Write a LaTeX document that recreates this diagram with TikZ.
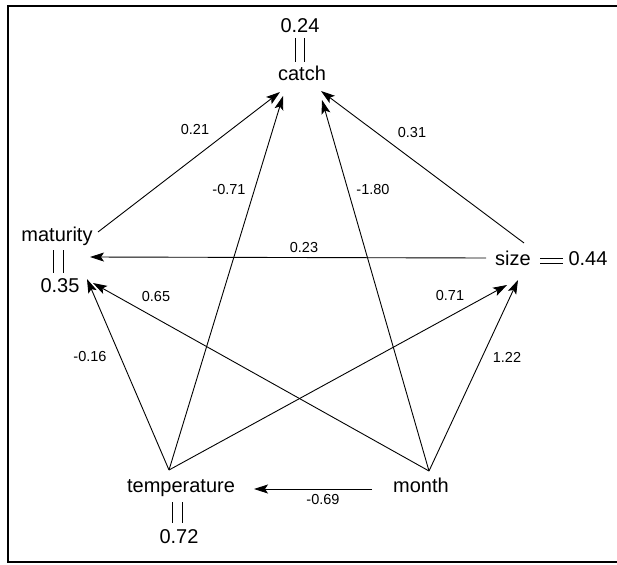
\documentclass[tikz,border=0pt]{standalone}
\usepackage{fontspec}
\setmainfont{Liberation Sans}
\usetikzlibrary{arrows.meta}
\begin{document}
\begin{tikzpicture}[x=1pt,y=-1pt,
  var/.style={inner sep=0pt,anchor=base,font=\fontsize{20}{22}\selectfont},
  lab/.style={inner sep=0pt,anchor=center,font=\fontsize{14.5}{16}\selectfont},
  conn/.style={line width=0.9pt,-{Stealth[length=14pt,width=9pt,inset=3pt]}},
  eq/.style={line width=1pt},
  frame/.style={line width=1.4pt}]
\useasboundingbox (0,0) rectangle (617,564);
% frame
\draw[frame] (617,6) -- (8,6) -- (8,562) -- (617,562);
% variables
\node[var] (catch) at (302,81) {catch};
\node[var] (rcatch) at (300,33) {0.24};
\node[var] (mat) at (57,241) {maturity};
\node[var] (rmat) at (60,292) {0.35};
\node[var] (size) at (513,265) {size};
\node[var] (rsize) at (588,265) {0.44};
\node[var] (temp) at (181,492) {temperature};
\node[var] (rtemp) at (179,543) {0.72};
\node[var] (month) at (421,492) {month};
% residual markers
\draw[eq] (295,38) -- (295,62) (304,38) -- (304,62);
\draw[eq] (53,250) -- (53,273) (63,250) -- (63,273);
\draw[eq] (540,258) -- (563,258) (540,263) -- (563,263);
\draw[eq] (172,502) -- (172,523) (182,502) -- (182,523);
% connector end points
\coordinate (T0) at (169,470);
\coordinate (M0) at (429,471);
\coordinate (matout) at (98,232);
\coordinate (sizeout1) at (524,243);
\coordinate (sizeout2) at (486,258);
\coordinate (monthout) at (372,489);
\coordinate (c1) at (280,92);
\coordinate (c2) at (283,96);
\coordinate (c3) at (322,100);
\coordinate (c4) at (321,91);
\coordinate (m1) at (90,257);
\coordinate (m2) at (87,279);
\coordinate (m3) at (93,283);
\coordinate (s1) at (507,285);
\coordinate (s2) at (518,280);
\coordinate (t1) at (254,489);
% connectors
\draw[conn] (matout) -- (c1);
\draw[conn] (T0) -- (c2);
\draw[conn] (M0) -- (c3);
\draw[conn] (sizeout1) -- (c4);
\draw[conn] (sizeout2) -- (m1);
\draw[conn] (T0) -- (m2);
\draw[conn] (M0) -- (m3);
\draw[conn] (T0) -- (s1);
\draw[conn] (M0) -- (s2);
\draw[conn] (monthout) -- (t1);
% labels
\node[lab] (l1) at (195,130) {0.21};
\node[lab] (l2) at (229,190) {-0.71};
\node[lab] (l3) at (373,190) {-1.80};
\node[lab] (l4) at (412,133) {0.31};
\node[lab] (l5) at (304,248) {0.23};
\node[lab] (l6) at (90,357) {-0.16};
\node[lab] (l7) at (156,297) {0.65};
\node[lab] (l8) at (450,296) {0.71};
\node[lab] (l9) at (507,357) {1.22};
\node[lab] (l10) at (323,500) {-0.69};
\end{tikzpicture}
\end{document}
